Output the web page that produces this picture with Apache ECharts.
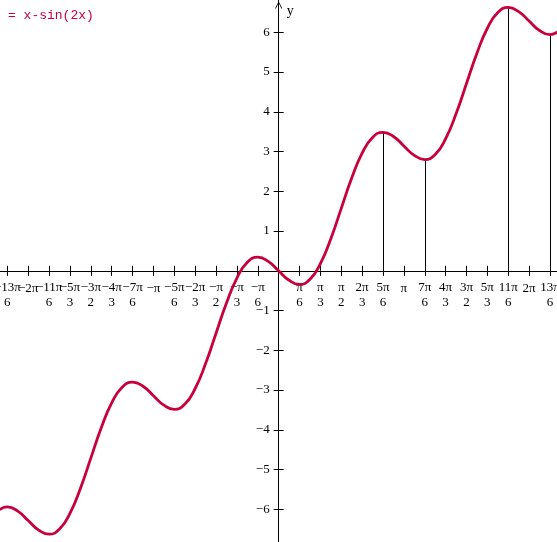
<!DOCTYPE html>
<html><head><meta charset="utf-8">
<script src="https://cdn.jsdelivr.net/npm/echarts@6/dist/echarts.min.js"></script>
<style>html,body{margin:0;padding:0;background:#fff;overflow:hidden}#c{width:557px;height:542px}</style>
</head><body><div id="c"></div>
<script>
// Curve y = x - sin(2x)
const curveX = [-7.0, -6.8068, -6.5450, -6.2832, -6.0214, -5.7596, -5.4978, -5.2360, -4.9742, -4.7124, -4.4506, -4.1888, -3.9270, -3.6652, -3.4034, -3.1416, -2.8798, -2.6180, -2.3562, -2.0944, -1.8326, -1.5708, -1.3090, -1.0472, -0.7854, -0.5236, -0.2618,
  0, 0.2618, 0.5236, 0.7854, 1.0472, 1.3090, 1.5708, 1.8326, 2.0944, 2.3562, 2.6180, 2.8798, 3.1416, 3.4034, 3.6652, 3.9270, 4.1888, 4.4506, 4.7124, 4.9742, 5.2360, 5.4978, 5.7596, 6.0214, 6.2832, 6.5450, 6.8068, 7.0];
const curveY = [-6.0094, -5.9408, -6.0450, -6.2832, -6.5214, -6.6256, -6.4978, -6.1020, -5.4742, -4.7124, -3.9506, -3.3228, -2.9270, -2.7992, -2.9034, -3.1416, -3.3798, -3.4840, -3.3562, -2.9604, -2.3326, -1.5708, -0.8090, -0.1812, 0.2146, 0.3424, 0.2382,
  0, -0.2382, -0.3424, -0.2146, 0.1812, 0.8090, 1.5708, 2.3326, 2.9604, 3.3562, 3.4840, 3.3798, 3.1416, 2.9034, 2.7992, 2.9270, 3.3228, 3.9506, 4.7124, 5.4742, 6.1020, 6.4978, 6.6256, 6.5214, 6.2832, 6.0450, 5.9408, 6.0094];

// Vertical drop lines from the curve to the x axis
const dropX = [2.6180, 3.6652, 5.7596, 6.8068];
const dropY = [3.4840, 2.7992, 6.6256, 5.9408];

// x ticks: multiples of π/6
const xTickSteps = [-13,-12,-11,-10,-9,-8,-7,-6,-5,-4,-3,-2,-1,1,2,3,4,5,6,7,8,9,10,11,12,13];
const xTickLabels = ['−13π/6','−2π','−11π/6','−5π/3','−3π/2','−4π/3','−7π/6','−π','−5π/6','−2π/3','−π/2','−π/3','−π/6',
  'π/6','π/3','π/2','2π/3','5π/6','π','7π/6','4π/3','3π/2','5π/3','11π/6','2π','13π/6'];
const yTickValues = [-6,-5,-4,-3,-2,-1,1,2,3,4,5,6];
const yTickLabels = ['−6','−5','−4','−3','−2','−1','1','2','3','4','5','6'];

const xTickValues = xTickSteps.map(k => k * Math.PI / 6);
// −13π/6 and −11π/6 are drawn by the twin axis so the library's min-label overlap rule keeps every label
const xLabelValuesEdge = [xTickValues[0], xTickValues[2]];
const xLabelValuesMain = xTickValues.filter((v, i) => i !== 0 && i !== 2);
const SERIF = '"Liberation Serif", "DejaVu Serif", serif';
const W = 557, H = 542;
const X_MIN = -6.991, X_MAX = 6.983, Y_MIN = -6.822, Y_MAX = 6.813;
// pixel position of the zero lines inside the grid (grid fills the canvas)
const zeroX = (0 - X_MIN) / (X_MAX - X_MIN) * W;
const zeroY = (Y_MAX - 0) / (Y_MAX - Y_MIN) * H;

function xFmt(v) {
  const k = Math.round(v / (Math.PI / 6));
  const i = xTickSteps.indexOf(k);
  if (i < 0) return '';
  const t = xTickLabels[i];
  if (t.indexOf('/') >= 0) {
    const p = t.split('/');
    return '{n|' + p[0] + '}\n{d|' + p[1] + '}';
  }
  return '{s|' + t + '}';
}
function yFmt(v) {
  const i = yTickValues.indexOf(Math.round(v));
  return i < 0 ? '' : yTickLabels[i];
}

const richStyles = {
  n: {fontFamily: SERIF, fontSize: 13, lineHeight: 15, color: '#000', align: 'center'},
  d: {fontFamily: SERIF, fontSize: 13, lineHeight: 15, color: '#000', align: 'center'},
  s: {fontFamily: SERIF, fontSize: 13, lineHeight: 18, color: '#000', align: 'center'}
};

const chart = echarts.init(document.getElementById('c'), null, {renderer: 'canvas'});
const axisLineStyle = {color: '#000', width: 1};
chart.setOption({
  animation: false,
  backgroundColor: '#fff',
  title: {
    text: '= x-sin(2x)', left: 3, top: 4,
    textStyle: {fontFamily: '"Liberation Mono", "DejaVu Sans Mono", monospace', fontSize: 13, fontWeight: 'normal', color: '#c8003c'}
  },
  grid: {left: 0, right: 0, top: 0, bottom: 0, containLabel: false, outerBoundsMode: 'none'},
  xAxis: [{
    type: 'value', min: X_MIN, max: X_MAX, position: 'bottom', offset: -(H - zeroY),
    axisLine: {show: true, onZero: false, lineStyle: axisLineStyle},
    axisTick: {show: true, length: 5, customValues: xTickValues, lineStyle: axisLineStyle},
    axisLabel: {
      show: true, customValues: xLabelValuesMain, formatter: xFmt, margin: 9, hideOverlap: false,
      showMinLabel: true, showMaxLabel: true,
      color: '#000', fontFamily: SERIF, fontSize: 13, rich: richStyles
    },
    splitLine: {show: false}
  }, {
    type: 'value', min: X_MIN, max: X_MAX, position: 'top', offset: -zeroY,
    axisLine: {show: false, onZero: false},
    axisTick: {show: true, length: 5, customValues: xTickValues, lineStyle: axisLineStyle},
    axisLabel: {
      show: true, inside: true, customValues: xLabelValuesEdge, formatter: xFmt, margin: 9, hideOverlap: false,
      showMinLabel: true, showMaxLabel: true, color: '#000', fontFamily: SERIF, fontSize: 13, rich: richStyles
    },
    splitLine: {show: false}
  }],
  yAxis: [{
    type: 'value', min: Y_MIN, max: Y_MAX, position: 'left', offset: -zeroX,
    name: 'y', nameLocation: 'end', nameGap: -11,
    nameTextStyle: {fontFamily: SERIF, fontSize: 14, color: '#000', align: 'left', verticalAlign: 'middle', padding: [0, 0, 0, 8]},
    axisLine: {show: true, onZero: false, lineStyle: axisLineStyle,
      symbol: ['none', 'path://M0,10 L5,0 L10,10 L9,10.6 L5,2 L1,10.6 Z'], symbolSize: [7, 8], symbolOffset: [0, -5]},
    axisTick: {show: true, length: 5, customValues: yTickValues, lineStyle: axisLineStyle},
    axisLabel: {show: true, customValues: yTickValues, formatter: yFmt, margin: 9, color: '#000', fontFamily: SERIF, fontSize: 13},
    splitLine: {show: false}
  }, {
    type: 'value', min: Y_MIN, max: Y_MAX, position: 'right', offset: -(W - zeroX),
    axisLine: {show: false, onZero: false},
    axisTick: {show: true, length: 5, customValues: yTickValues, lineStyle: axisLineStyle},
    axisLabel: {show: false},
    splitLine: {show: false}
  }],
  series: [{
    type: 'line', xAxisIndex: 0, yAxisIndex: 0,
    data: curveX.map((x, i) => [x, curveY[i]]),
    smooth: 0.5, showSymbol: false, symbol: 'none', clip: true,
    lineStyle: {color: '#c8003c', width: 2.8},
    z: 5,
    markLine: {
      silent: true, symbol: ['none', 'none'], animation: false,
      label: {show: false},
      lineStyle: {color: '#000', width: 1, type: 'solid'},
      data: dropX.map((x, i) => [{coord: [x, 0]}, {coord: [x, dropY[i]]}])
    }
  }]
});
</script>
</body></html>
